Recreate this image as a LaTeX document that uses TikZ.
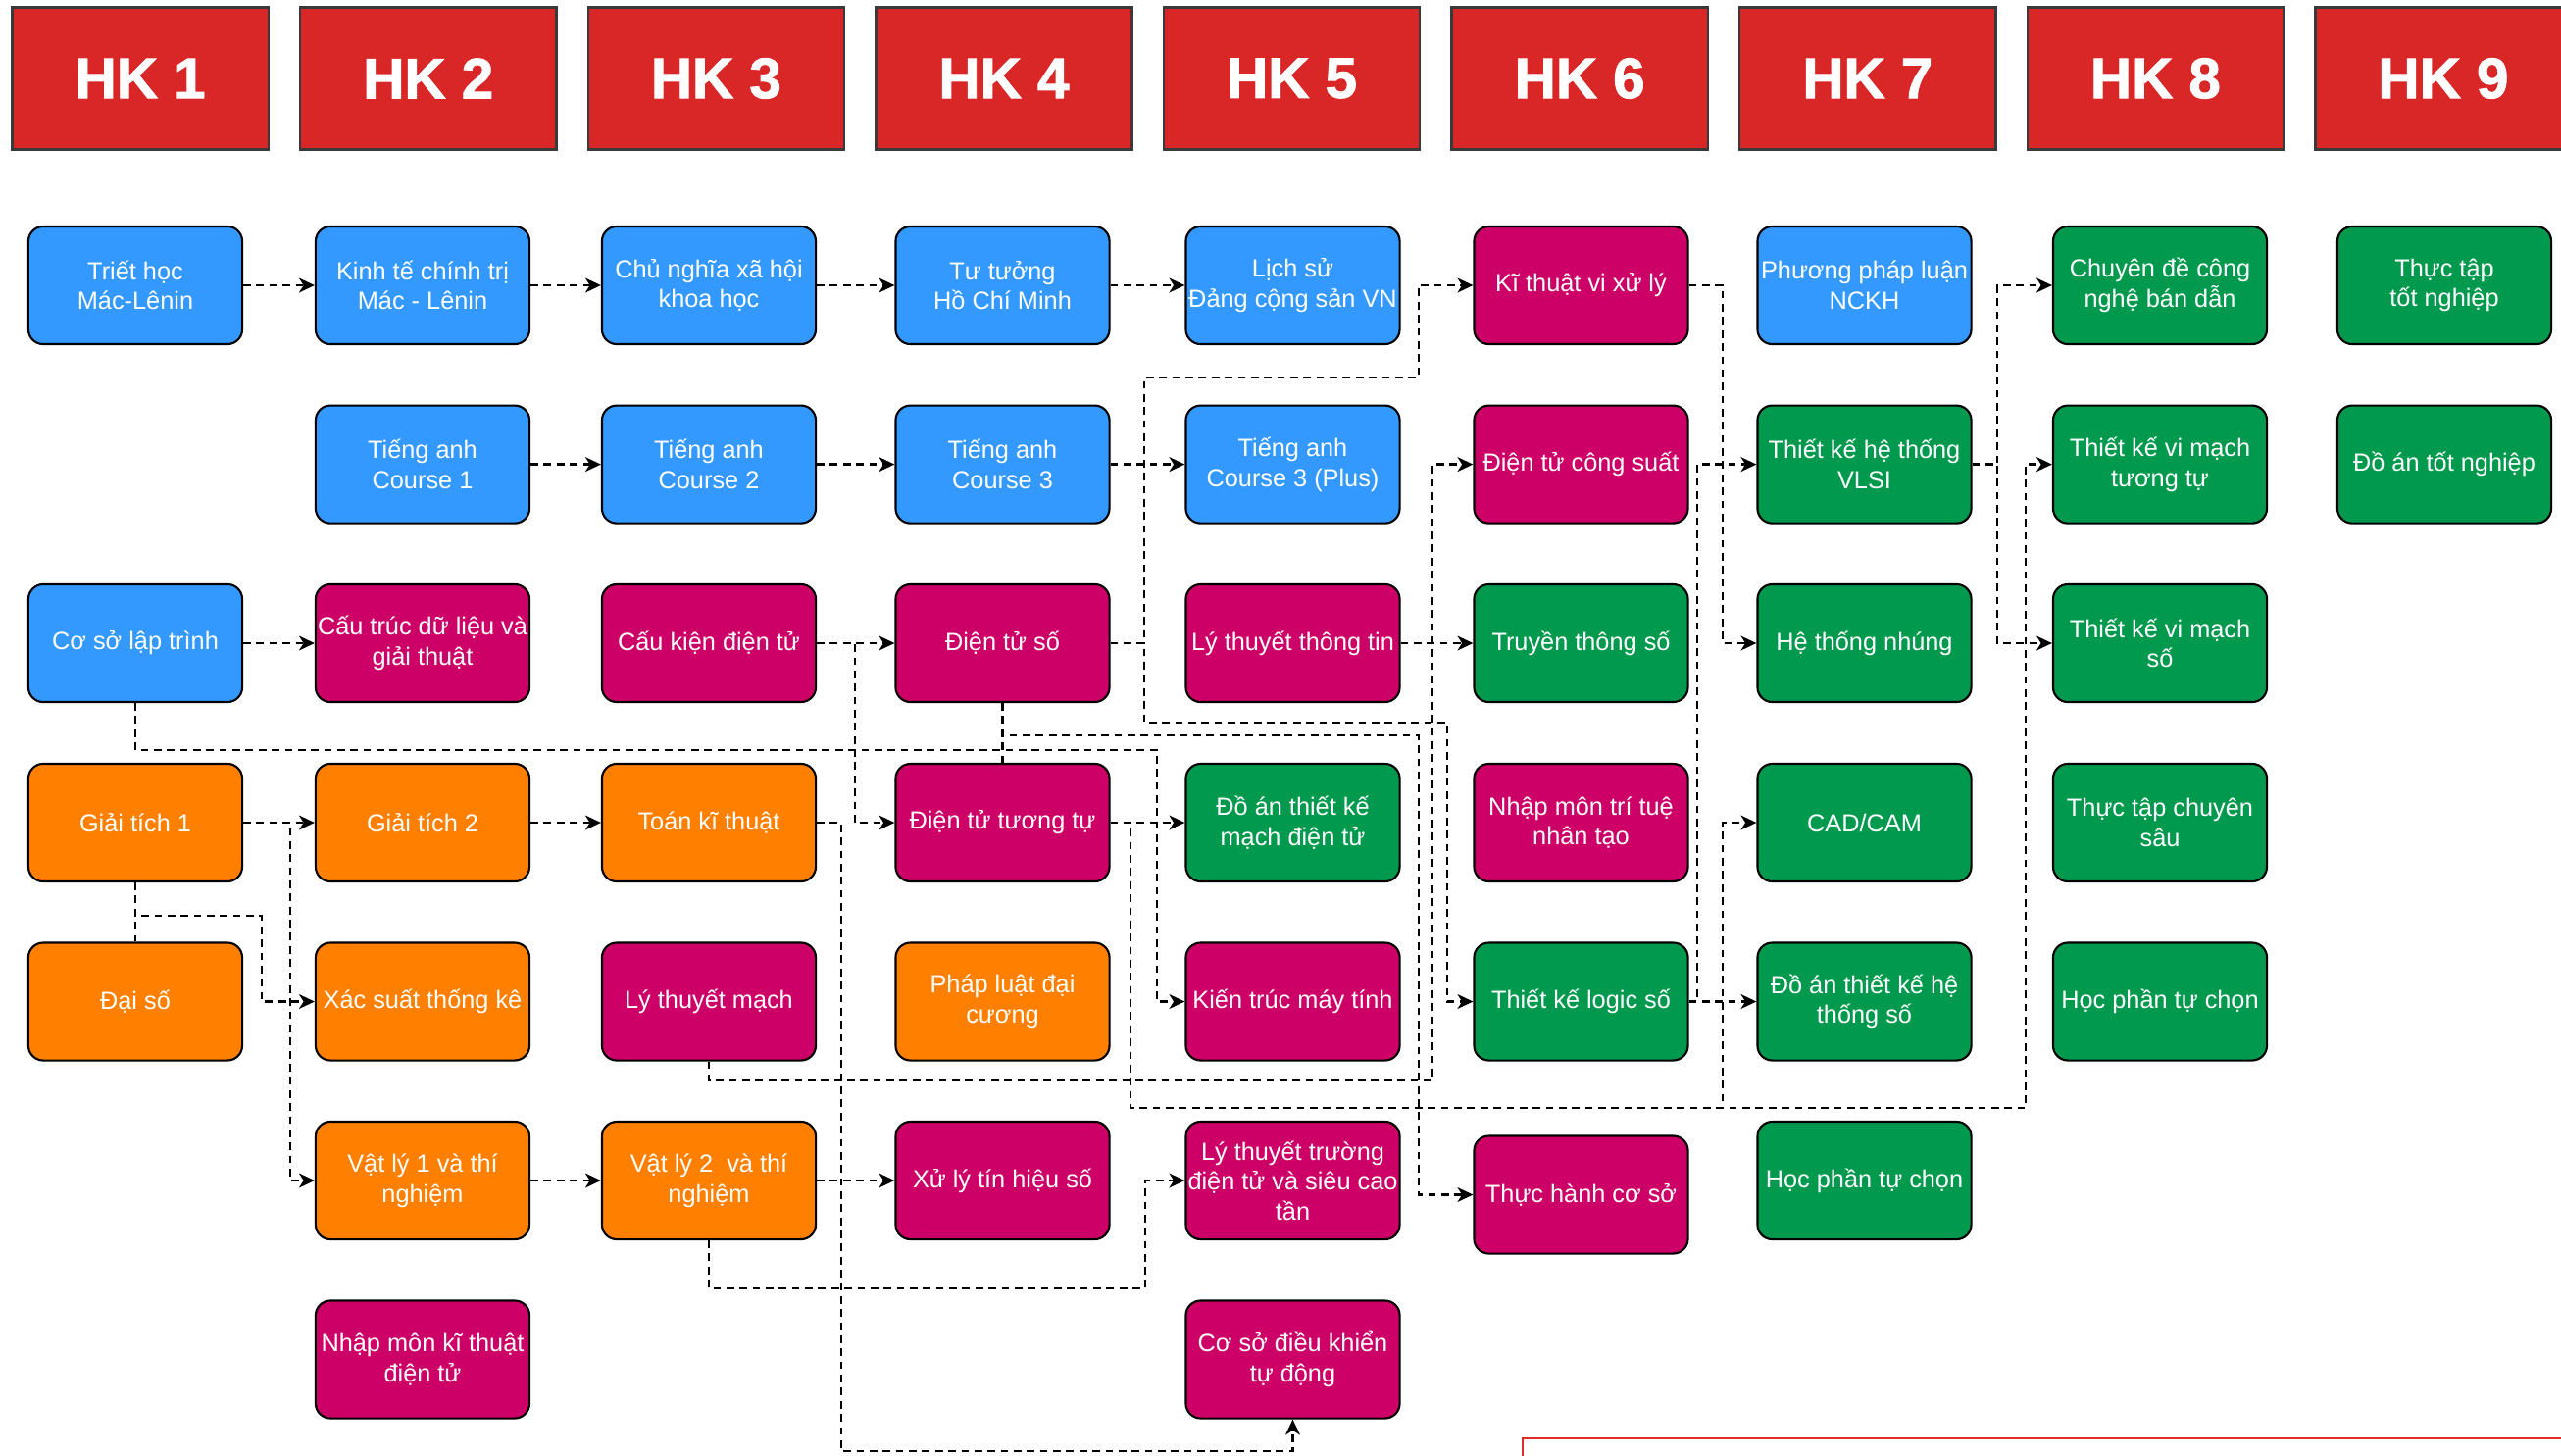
\documentclass[tikz,border=0pt]{standalone}
\usepackage{fontspec}
\setmainfont{Liberation Sans}
\newfontfamily\hkfont[FakeBold=1.6]{Liberation Sans Bold}
\usetikzlibrary{arrows.meta}
\definecolor{hkred}{HTML}{D92728}
\definecolor{hkedge}{HTML}{3A3A3A}
\definecolor{mhblue}{HTML}{3399FF}
\definecolor{mhpink}{HTML}{CC0066}
\definecolor{mhorange}{HTML}{FF8000}
\definecolor{mhgreen}{HTML}{00994D}
\definecolor{legendred}{HTML}{E02B2B}
\tikzset{
  hk/.style={draw=hkedge, line width=0.7pt, fill=hkred, text=white,
    minimum width=2.61cm, minimum height=1.45cm,
    font=\fontsize{16.6}{20}\selectfont\hkfont},
  course/.style={draw=black, line width=0.6pt, rounded corners=4.3pt,
    text=white, align=center, minimum width=2.18cm, minimum height=1.2cm,
    inner xsep=0.5pt, font=\fontsize{7.2}{8.7}\selectfont},
  gen/.style={course, fill=mhblue},     % general subjects
  mth/.style={course, fill=mhorange},   % maths and physics
  core/.style={course, fill=mhpink},    % core electronics
  spec/.style={course, fill=mhgreen},   % specialisation
  wire/.style={line width=0.75pt, dash pattern=on 2.2pt off 1.6pt},
  link/.style={wire, -{Stealth[length=4.5pt,width=4.2pt,inset=1.3pt]}},
}
\begin{document}
\begin{tikzpicture}[x=0.01cm,y=-0.01cm]
\useasboundingbox (0,0) rectangle (2612,1484);
\clip (0,0) rectangle (2612,1484);

% semesters
\foreach \i in {1,...,9}
  \node[hk] (hk\i) at ({143.2+293.6*(\i-1)},80) {HK \i};

% row 1
\node[gen] (triet) at (138,291) {Triết học\\Mác-Lênin};
\node[gen] (kte) at (431,291) {Kinh tế chính trị\\Mác - Lênin};
\node[gen] (cnxh) at (723,291) {Chủ nghĩa xã hội\\khoa học};
\node[gen] (tthcm) at (1022.5,291) {Tư tưởng\\Hồ Chí Minh};
\node[gen] (lsd) at (1318.5,291) {Lịch sử\\Đảng cộng sản VN};
\node[core] (ktvxl) at (1612.5,291) {Kĩ thuật vi xử lý};
\node[gen] (ppl) at (1901.5,291) {Phương pháp luận\\NCKH};
\node[spec] (cdbd) at (2203,291) {Chuyên đề công\\nghệ bán dẫn};
\node[spec] (tttn) at (2493,291) {Thực tập\\tốt nghiệp};

% row 2
\node[gen] (ta1) at (431,473.6) {Tiếng anh\\Course 1};
\node[gen] (ta2) at (723,473.6) {Tiếng anh\\Course 2};
\node[gen] (ta3) at (1022.5,473.6) {Tiếng anh\\Course 3};
\node[gen] (ta3p) at (1318.5,473.6) {Tiếng anh\\Course 3 (Plus)};
\node[core] (dtcs) at (1612.5,473.6) {Điện tử công suất};
\node[spec] (vlsi) at (1901.5,473.6) {Thiết kế hệ thống\\VLSI};
\node[spec] (tkvmtt) at (2203,473.6) {Thiết kế vi mạch\\tương tự};
\node[spec] (datn) at (2493,473.6) {Đồ án tốt nghiệp};

% row 3
\node[gen] (cslt) at (138,656) {Cơ sở lập trình};
\node[core] (ctdl) at (431,656) {Cấu trúc dữ liệu và\\giải thuật};
\node[core] (ckdt) at (723,656) {Cấu kiện điện tử};
\node[core] (dts) at (1022.5,656) {Điện tử số};
\node[core] (lttt) at (1318.5,656) {Lý thuyết thông tin};
\node[spec] (tts) at (1612.5,656) {Truyền thông số};
\node[spec] (htn) at (1901.5,656) {Hệ thống nhúng};
\node[spec] (tkvms) at (2203,656) {Thiết kế vi mạch\\số};

% row 4
\node[mth] (gt1) at (138,839) {Giải tích 1};
\node[mth] (gt2) at (431,839) {Giải tích 2};
\node[mth] (tkt) at (723,839) {Toán kĩ thuật};
\node[core] (dttt) at (1022.5,839) {Điện tử tương tự};
\node[spec] (datk) at (1318.5,839) {Đồ án thiết kế\\mạch điện tử};
\node[core] (ai) at (1612.5,839) {Nhập môn trí tuệ\\nhân tạo};
\node[spec] (cad) at (1901.5,839) {CAD/CAM};
\node[spec] (ttcs) at (2203,839) {Thực tập chuyên\\sâu};

% row 5
\node[mth] (daiso) at (138,1021.5) {Đại số};
\node[mth] (xstk) at (431,1021.5) {Xác suất thống kê};
\node[core] (ltm) at (723,1021.5) {Lý thuyết mạch};
\node[mth] (pldc) at (1022.5,1021.5) {Pháp luật đại\\cương};
\node[core] (ktmt) at (1318.5,1021.5) {Kiến trúc máy tính};
\node[spec] (tkls) at (1612.5,1021.5) {Thiết kế logic số};
\node[spec] (dahts) at (1901.5,1021.5) {Đồ án thiết kế hệ\\thống số};
\node[spec] (tuchon8) at (2203,1021.5) {Học phần tự chọn};

% row 6
\node[mth] (vl1) at (431,1204) {Vật lý 1 và thí\\nghiệm};
\node[mth] (vl2) at (723,1204) {Vật lý 2\ \ và thí\\nghiệm};
\node[core] (xlts) at (1022.5,1204) {Xử lý tín hiệu số};
\node[core] (ltt) at (1318.5,1204) {Lý thuyết trường\\điện tử và siêu cao\\tần};
\node[core] (thcs) at (1612.5,1218.5) {Thực hành cơ sở};
\node[spec] (tuchon7) at (1901.5,1204) {Học phần tự chọn};

% row 7
\node[core] (nmkt) at (431,1386.5) {Nhập môn kĩ thuật\\điện tử};
\node[core] (csdk) at (1318.5,1386.5) {Cơ sở điều khiển\\tự động};

% straight prerequisites
\draw[link] (triet.east) -- (kte.west);
\draw[link] (kte.east) -- (cnxh.west);
\draw[link] (cnxh.east) -- (tthcm.west);
\draw[link] (tthcm.east) -- (lsd.west);
\draw[link] (ta1.east) -- (ta2.west);
\draw[link] (ta2.east) -- (ta3.west);
\draw[link] (ta3.east) -- (ta3p.west);
\draw[link] (cslt.east) -- (ctdl.west);
\draw[link] (ckdt.east) -- (dts.west);
\draw[link] (lttt.east) -- (tts.west);
\draw[link] (gt1.east) -- (gt2.west);
\draw[link] (gt2.east) -- (tkt.west);
\draw[link] (dttt.east) -- (datk.west);
\draw[link] (tkls.east) -- (dahts.west);
\draw[link] (vl1.east) -- (vl2.west);
\draw[link] (vl2.east) -- (xlts.west);

% routed prerequisites
\draw[link] (ckdt.east) -| (872,760) |- (dttt.west);
\draw[link] (tkt.east) -| (858,1480) -| (csdk.south);
\draw[link] (gt1.east) -| (296,1000) |- (vl1.west);
\draw[wire] (gt1.south) -- (daiso.north);
\draw[link] (gt1.south) |- (267,934) |- (xstk.west);
\draw[link] (cslt.south) |- (1180,765) |- (ktmt.west);
\draw[link] (dts.east) -| (1167,385) -- (1447,385) |- (ktvxl.west);
\draw[link] (dts.east) -| (1167,737) -- (1476,737) |- (tkls.west);
\draw[wire] (dts.south) -- (dttt.north);
\draw[link] (dts.south) |- (1447,750) |- (thcs.west);
\draw[link] (ltm.south) |- (1461,1102) |- (dtcs.west);
\draw[link] (dttt.east) -| (1153,1130) -- (2066,1130) |- (tkvmtt.west);
\draw[link] (dttt.east) -| (1153,1130) -- (1757,1130) |- (cad.west);
\draw[link] (vl2.south) |- (1168,1314) |- (ltt.west);
\draw[link] (ktvxl.east) -| (1757,500) |- (htn.west);
\draw[link] (tkls.east) -| (1731,500) |- (vlsi.west);
\draw[link] (vlsi.east) -| (2037,400) |- (cdbd.west);
\draw[link] (vlsi.east) -| (2037,550) |- (tkvms.west);

% legend frame, cut by the page edge
\draw[legendred, line width=0.8pt] (1553,1467) rectangle (2700,1600);
\end{tikzpicture}
\end{document}
